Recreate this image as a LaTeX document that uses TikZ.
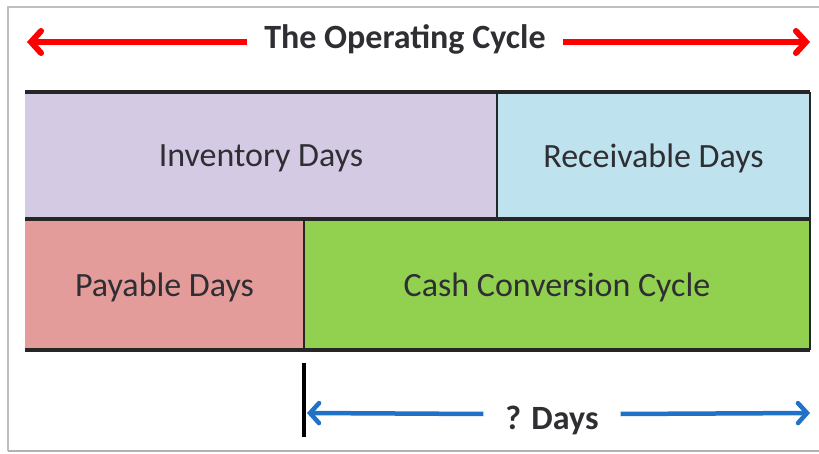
\documentclass[tikz,border=0pt]{standalone}
\usepackage{fontspec}
\setmainfont{Carlito}
\usetikzlibrary{arrows.meta}
\definecolor{invc}{HTML}{D5CAE3}
\definecolor{recc}{HTML}{BEE3EE}
\definecolor{payc}{HTML}{E39C99}
\definecolor{cccc}{HTML}{92D050}
\definecolor{txtc}{HTML}{2E2E33}
\definecolor{arrblue}{HTML}{1F72C8}
\begin{document}
\begin{tikzpicture}[x=1pt,y=-1pt,
  cell/.style={inner sep=0pt, outer sep=0pt, anchor=north west, text=txtc, font=\fontsize{34}{34}\selectfont, text depth=0pt},
  edge/.style={line width=4pt, black!85},
  divider/.style={line width=2.5pt, black!85},
  redarr/.style={line width=6pt, red, -{Straight Barb[length=10pt,width=22pt,line cap=round]}},
  bluearr/.style={line width=4.5pt, arrblue, -{Straight Barb[length=9pt,width=20pt,line cap=round]}}]
\useasboundingbox (0,0) rectangle (819,454);
\fill[white] (0,0) rectangle (819,454);
\draw[black!25, line width=1.5pt] (8,451) -- (8,7) -- (819,7);
\draw[black!30, line width=2pt] (8,451) -- (819,451);
% boxes
\node[cell, fill=invc, minimum width=472pt, minimum height=127pt] (inv) at (25,92) {Inventory Days};
\node[cell, fill=recc, minimum width=313pt, minimum height=127pt] (rec) at (497,92) {Receivable Days};
\node[cell, fill=payc, minimum width=279pt, minimum height=131pt] (pay) at (25,219) {Payable Days};
\node[cell, fill=cccc, minimum width=506pt, minimum height=131pt] (ccc) at (304,219) {Cash Conversion Cycle};
% borders
\draw[edge] (inv.north west) -- (rec.north east);
\draw[edge] (pay.north west) -- (ccc.north east);
\draw[edge] (pay.south west) -- (ccc.south east);
\draw[divider] (inv.north east) -- (inv.south east);
\draw[divider] (pay.north east) -- (pay.south east);
\draw[divider] (rec.north east) -- (ccc.south east);
% title and red arrows
\node[font=\fontsize{34}{34}\selectfont\bfseries, text=txtc, inner sep=0pt] (title) at (405,39) {The Operating Cycle};
\coordinate (redL) at (27,42);
\coordinate (redR) at (810,42);
\draw[redarr] ([shift={(-17pt,3)}]title.west) -- (redL);
\draw[redarr] ([shift={(17pt,3)}]title.east) -- (redR);
% bottom marker and blue arrows
\coordinate (tickT) at (304,363);
\coordinate (tickB) at (304,437);
\draw[line width=4pt, black] (tickT) -- (tickB);
\node[font=\fontsize{34}{34}\selectfont\bfseries, text=txtc, inner sep=0pt] (days) at (552,420) {? Days};
\coordinate (blueL) at (307,413);
\coordinate (blueR) at (810,413);
\draw[bluearr] ([shift={(-22pt,-6)}]days.west) -- (blueL);
\draw[bluearr] ([shift={(22pt,-6)}]days.east) -- (blueR);
\end{tikzpicture}
\end{document}
